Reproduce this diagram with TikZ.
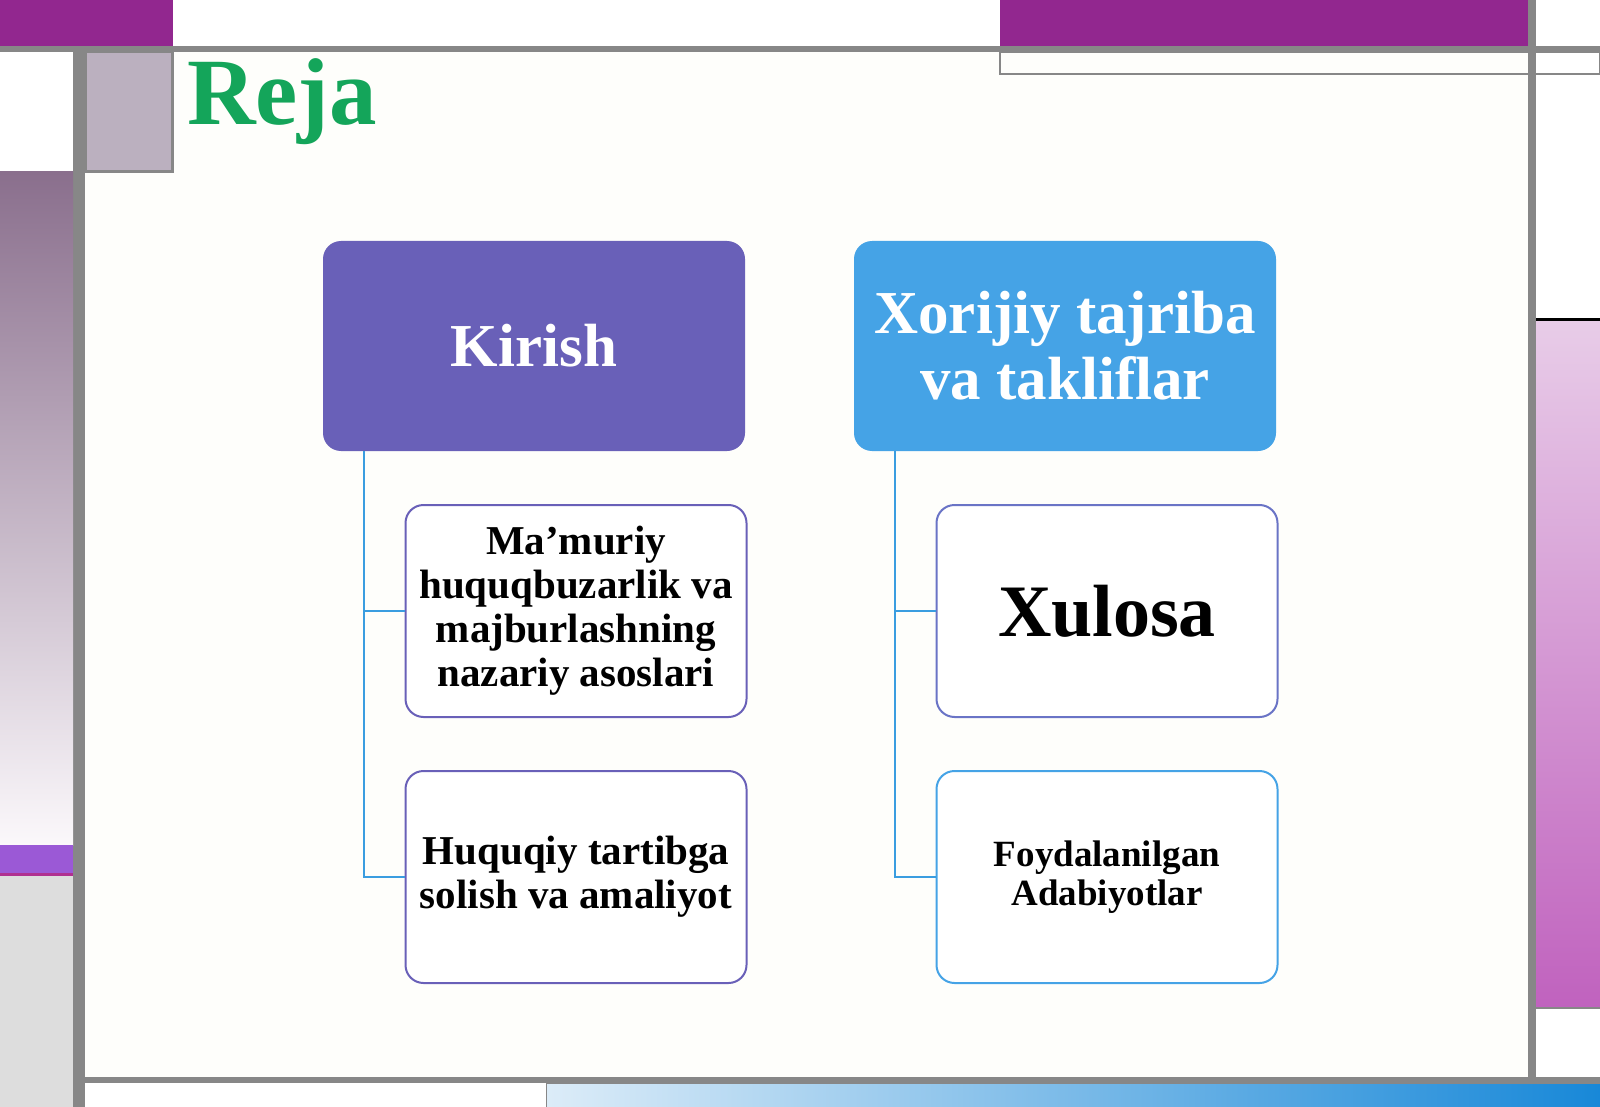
\documentclass[tikz,border=0pt]{standalone}
\usepackage{fontspec}
\setmainfont{Liberation Serif}
\definecolor{plum}{HTML}{92278F}
\definecolor{rail}{HTML}{878787}
\definecolor{ivory}{HTML}{FEFEFB}
\definecolor{kirishfill}{HTML}{6960B8}
\definecolor{xorijfill}{HTML}{45A3E6}
\definecolor{xulosaline}{HTML}{6A74C6}
\definecolor{linkblue}{HTML}{3A9DE0}
\definecolor{rejagreen}{HTML}{14A55A}
\definecolor{pinktop}{RGB}{232,204,232}
\definecolor{pinkbot}{RGB}{192,98,190}
\definecolor{mauvebox}{RGB}{187,176,191}
\definecolor{mauvetop}{RGB}{138,111,141}
\definecolor{mauvebot}{RGB}{251,248,251}
\definecolor{bandpurple}{RGB}{155,89,214}
\definecolor{bandedge}{RGB}{176,48,144}
\definecolor{footgray}{RGB}{221,221,221}
\definecolor{barleft}{RGB}{220,236,248}
\definecolor{barright}{RGB}{24,136,216}
\begin{document}
\begin{tikzpicture}[x=1pt,y=-1pt,
		title/.style={anchor=base west,inner sep=0,text=rejagreen,font=\fontsize{95}{100}\selectfont\bfseries},
		head/.style={rounded corners=18,minimum width=422,minimum height=210,inner sep=0,align=center,text=white,font=\fontsize{61}{66}\selectfont\bfseries},
		sub/.style={draw=kirishfill,line width=2,rounded corners=18,fill=white,minimum width=341,minimum height=212,inner sep=0,align=center,font=\fontsize{41}{44}\selectfont\bfseries},
		link/.style={draw=linkblue,line width=2}]
		\useasboundingbox (0,0) rectangle (1600,1107);
		\fill[white] (0,0) rectangle (1600,1107);
		\fill[ivory] (85,52) rectangle (1528,1077);
		\fill[plum] (0,0) rectangle (173,46);
		\fill[plum] (1000,0) rectangle (1528,46);
		\fill[rail] (0,46) rectangle (1600,52);
		\draw[rail,line width=2] (1000,52) rectangle (1600,74);
		\fill[rail] (1528,0) rectangle (1536,1083);
		\draw[black,line width=3] (1536,319) -- (1600,319);
		\shade[top color=pinktop,bottom color=pinkbot] (1536,321) rectangle (1600,1008);
		\draw[rail,line width=2] (1536,1008) -- (1600,1008);
		\fill[rail] (73,52) rectangle (85,1107);
		\filldraw[fill=mauvebox,draw=rail,line width=3] (85,52) rectangle (172,172);
		\shade[top color=mauvetop,bottom color=mauvebot] (0,172) rectangle (73,845);
		\fill[bandpurple] (0,845) rectangle (73,873);
		\fill[bandedge] (0,873) rectangle (73,876);
		\fill[footgray] (0,876) rectangle (73,1107);
		\fill[rail] (85,1077) rectangle (1600,1083);
		\shade[left color=barleft,right color=barright,draw=rail] (546,1083) rectangle (1600,1107);
		\node[title] (reja) at (187,125) {Reja};
		\node[head,fill=kirishfill] (kirish) at (534,346) {Kirish};
		\node[head,fill=xorijfill] (xorij) at (1065,346) {Xorijiy tajriba\\va takliflar};
		\node[sub] (mamuriy) at (576,611) {Ma’muriy\\huquqbuzarlik va\\majburlashning\\nazariy asoslari};
		\node[sub] (huquq) at (576,877) {Huquqiy tartibga\\solish va amaliyot};
		\node[sub,draw=xulosaline,font=\fontsize{74}{80}\selectfont\bfseries] (xulosa) at (1107,611) {Xulosa};
		\node[sub,draw=xorijfill,font=\fontsize{37}{39}\selectfont\bfseries] (foyda) at (1107,877) {Foydalanilgan\\Adabiyotlar};
		\draw[link] ([xshift=41]kirish.south west) |- (mamuriy.west);
		\draw[link] ([xshift=41]kirish.south west) |- (huquq.west);
		\draw[link] ([xshift=41]xorij.south west) |- (xulosa.west);
		\draw[link] ([xshift=41]xorij.south west) |- (foyda.west);
	\end{tikzpicture}
\end{document}
